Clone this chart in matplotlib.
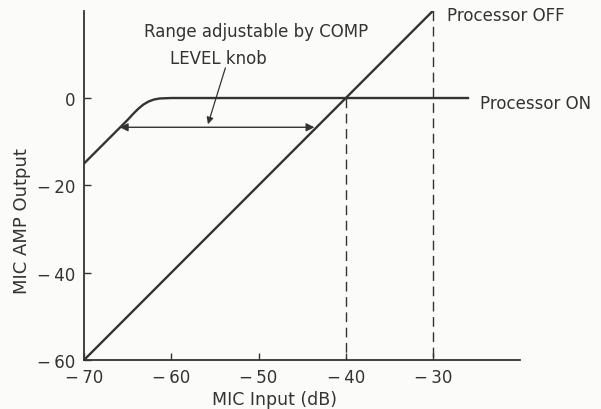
import matplotlib.pyplot as plt

plt.rcParams['font.family'] = ['DejaVu Sans']

ink = '#333333'

# processor OFF: straight 2:1 line
off_x = [-70, -30]
off_y = [-60, 20]

# processor ON: rises then levels off at 0 dB
on_x = [-70, -65.5, -65.0, -64.4, -63.8, -63.2, -62.6, -62.0, -61.3, -60, -26]
on_y = [-15, -6.0, -5.0, -3.7, -2.5, -1.5, -0.8, -0.35, -0.1, 0, 0]

x_ticks = [-70, -60, -50, -40, -30]
y_ticks = [0, -20, -40, -60]

range_left, range_right, range_y = -65.9, -43.6, -6.7

fig = plt.figure(figsize=(6.01, 4.10), dpi=100)
fig.patch.set_facecolor('#fbfbfa')
ax = fig.add_axes([0.1398, 0.1195, 0.726, 0.852])
ax.set_facecolor('#fbfbfa')

ax.plot(off_x, off_y, color=ink, lw=1.7, solid_joinstyle='round')
ax.plot(on_x, on_y, color=ink, lw=1.7, solid_joinstyle='round')

# dashed guides
ax.plot([-40, -40], [0, -60], color=ink, lw=1.0, ls=(0, (7, 4)))
ax.plot([-30, -30], [20, -60], color=ink, lw=1.0, ls=(0, (7, 4)))

ax.text(-28.45, 17.8, 'Processor OFF', fontsize=12, color=ink, va='baseline', ha='left')
ax.text(-24.6, -2.3, 'Processor ON', fontsize=12, color=ink, va='baseline', ha='left')

# range arrow
ax.annotate('', xy=(range_left, range_y), xytext=(range_right, range_y),
            arrowprops=dict(arrowstyle='<|-|>', color=ink, lw=1.0,
                            mutation_scale=12, shrinkA=0, shrinkB=0))
ax.text(-50.3, 14.25, 'Range adjustable by COMP', fontsize=12, color=ink,
        ha='center', va='baseline')
ax.text(-54.6, 8.0, 'LEVEL knob', fontsize=12, color=ink,
        ha='center', va='baseline')
ax.annotate('', xy=(-55.8, -6.0), xytext=(-53.8, 6.9),
            arrowprops=dict(arrowstyle='-|>', color=ink, lw=0.9,
                            mutation_scale=10, shrinkA=0, shrinkB=0))

ax.set_xlim(-70, -20)
ax.set_ylim(-60, 20)
ax.set_xticks(x_ticks)
ax.set_xticklabels(['\u2212\u2009%d' % abs(v) for v in x_ticks])
ax.set_yticks(y_ticks)
ax.set_yticklabels(['0' if v == 0 else '\u2212\u2009%d' % abs(v) for v in y_ticks])
ax.tick_params(direction='in', length=5, width=1, colors=ink, labelsize=12, pad=6)

for s in ['top', 'right']:
    ax.spines[s].set_visible(False)
for s in ['left', 'bottom']:
    ax.spines[s].set_color(ink)
    ax.spines[s].set_linewidth(1.3)

ax.set_xlabel('MIC Input (dB)', fontsize=12.5, color=ink, labelpad=4)
ax.xaxis.set_label_coords(0.436, -0.085)
ax.set_ylabel('MIC AMP Output', fontsize=13, color=ink, labelpad=6)
ax.yaxis.set_label_coords(-0.122, 0.40)

fig.savefig('out.png', dpi=100, facecolor=fig.get_facecolor())
